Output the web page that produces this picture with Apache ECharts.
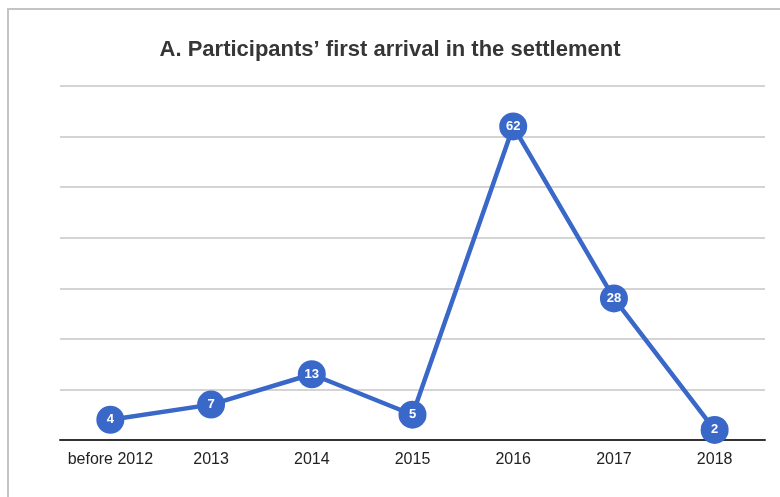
<!DOCTYPE html>
<html>
<head>
<meta charset="utf-8">
<script src="https://cdn.jsdelivr.net/npm/echarts@6/dist/echarts.min.js"></script>
<style>
	html, body { margin: 0; padding: 0; background: #fff; }
	#frame { position: absolute; left: 7px; top: 8px; width: 773px; height: 489px; border-top: 2px solid #c4c4c4; border-left: 2px solid #c4c4c4; box-sizing: border-box; }
	#chart { position: absolute; left: 0; top: 0; width: 780px; height: 497px; }
</style>
</head>
<body>
<div id="frame"></div>
<div id="chart"></div>
<script>
const categories = ['before 2012', '2013', '2014', '2015', '2016', '2017', '2018'];
const arrivals = [4, 7, 13, 5, 62, 28, 2];

lineInit = () => {
	let chart = echarts.init(document.getElementById('chart'));

	let option = {
		animation: false,
		title: {
			text: 'A. Participants\u2019 first arrival in the settlement',
			left: 'center',
			top: 34,
			textStyle: {
				fontFamily: 'Liberation Sans, Arial, sans-serif',
				fontSize: 22,
				fontWeight: 'bold',
				color: '#363636'
			}
		},
		grid: {
			left: 60,
			right: 15,
			top: 86,
			bottom: 57
		},
		xAxis: {
			type: 'category',
			data: categories,
			boundaryGap: true,
			axisTick: { show: false },
			axisLine: { lineStyle: { color: '#333', width: 2 } },
			axisLabel: {
				interval: 0,
				margin: 12,
				fontFamily: 'Liberation Sans, Arial, sans-serif',
				fontSize: 16,
				color: '#222'
			}
		},
		yAxis: {
			type: 'value',
			min: 0,
			max: 70,
			interval: 10,
			axisLabel: { show: false },
			axisLine: { show: false },
			axisTick: { show: false },
			splitLine: { lineStyle: { color: '#c6c6c6', width: 1.5 } }
		},
		series: [{
			type: 'line',
			data: arrivals,
			symbol: 'circle',
			symbolSize: 28,
			itemStyle: { color: '#3a68c8' },
			lineStyle: { color: '#3a68c8', width: 4.5 },
			label: {
				show: true,
				position: 'inside',
				color: '#fff',
				fontWeight: 'bold',
				fontSize: 13,
				fontFamily: 'Liberation Sans, Arial, sans-serif'
			},
			z: 5
		}]
	};
	chart.setOption(option);
};
lineInit();
</script>
</body>
</html>
